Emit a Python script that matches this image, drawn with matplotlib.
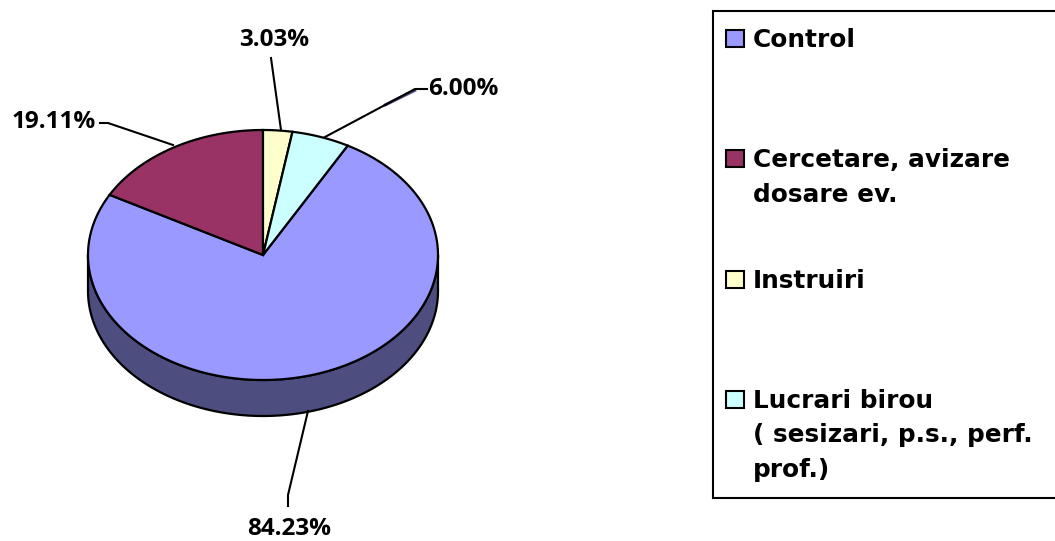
import numpy as np
import matplotlib.pyplot as plt
from matplotlib.patches import Polygon, Rectangle

plt.rcParams['font.family'] = ['Open Sans', 'DejaVu Sans']
plt.rcParams['font.weight'] = 'bold'

categories = ["Control", "Cercetare, avizare dosare ev.", "Instruiri",
              "Lucrari birou ( sesizari, p.s., perf. prof.)"]
legend_lines = [["Control"],
                ["Cercetare, avizare", "dosare ev."],
                ["Instruiri"],
                ["Lucrari birou", "( sesizari, p.s., perf.", "prof.)"]]
values = [84.23, 19.11, 3.03, 6.00]
colors = ["#9999FF", "#993366", "#FFFFCC", "#CCFFFF"]
side_colors = ["#4D4D80", "#4D1A33", "#808066", "#668080"]

# pie geometry (pixels)
cx, cy, rx, ry, depth = 263, 255, 175, 125, 36
fs = 17.5

fig = plt.figure(figsize=(10.55, 5.41), dpi=100)
ax = fig.add_axes([0, 0, 1, 1])
ax.set_xlim(0, 1055)
ax.set_ylim(541, 0)
ax.axis('off')

frac = np.array(values) / np.sum(values)
start = 90 + 360 * (frac[0] + frac[1])
bounds = start - 360 * np.concatenate([[0], np.cumsum(frac)])


def arc(t0, t1, dy=0, n=200):
    t = np.radians(np.linspace(t0, t1, n))
    return np.column_stack([cx + rx * np.cos(t), cy - ry * np.sin(t) + dy])


# side walls (front half of the ellipse only)
for i in range(len(values)):
    hi, lo = bounds[i], bounds[i + 1]
    for k in (-1, 0, 1):
        a = max(lo, 180 + 360 * k)
        b = min(hi, 360 + 360 * k)
        if b > a:
            top = arc(a, b)
            bot = arc(b, a, dy=depth)
            ax.add_patch(Polygon(np.vstack([top, bot]), closed=True,
                                 facecolor=side_colors[i], edgecolor='black',
                                 lw=1.6, zorder=1))

# top faces
for i in range(len(values)):
    pts = np.vstack([[cx, cy], arc(bounds[i], bounds[i + 1])])
    ax.add_patch(Polygon(pts, closed=True, facecolor=colors[i],
                         edgecolor='black', lw=1.6, zorder=2))

# data labels with leader lines
labels = [f"{v:.2f}%" for v in values]
label_pos = [(289, 529, 'center'), (96, 122, 'right'), (274, 40, 'center'), (428, 89, 'left')]
leaders = [[(308, 411), (288, 495), (288, 506)],
           [(100, 123), (108, 123), (173, 145)],
           [(271, 58), (281, 130)],
           [(427, 89), (415, 89), (325, 137)]]
# small shadow under the 6.00% leader
ax.plot([384, 416], [105.5, 89.8], color='#4D4D80', lw=2.2, zorder=3, solid_capstyle='butt')
for (x, y, ha), txt, ln in zip(label_pos, labels, leaders):
    ax.text(x, y, txt, ha=ha, va='center', fontsize=fs, fontweight='bold', zorder=5)
    xs, ys = zip(*ln)
    ax.plot(xs, ys, color='black', lw=1.5, zorder=4)

# legend
ax.add_patch(Rectangle((713, 11), 400, 487, facecolor='white', edgecolor='black',
                       lw=1.5, zorder=3, clip_on=True))
base0, step, line_h = 47, 120.3, 34.5
for i, lines in enumerate(legend_lines):
    b = base0 + i * step
    ax.add_patch(Rectangle((726, b - 17), 18, 17, facecolor=colors[i],
                           edgecolor='black', lw=1.5, zorder=4))
    for j, s in enumerate(lines):
        ax.text(753, b + j * line_h, s, ha='left', va='baseline', family='DejaVu Sans',
                fontsize=17.8, fontweight='bold', zorder=5)

fig.savefig('out.png', dpi=100)
